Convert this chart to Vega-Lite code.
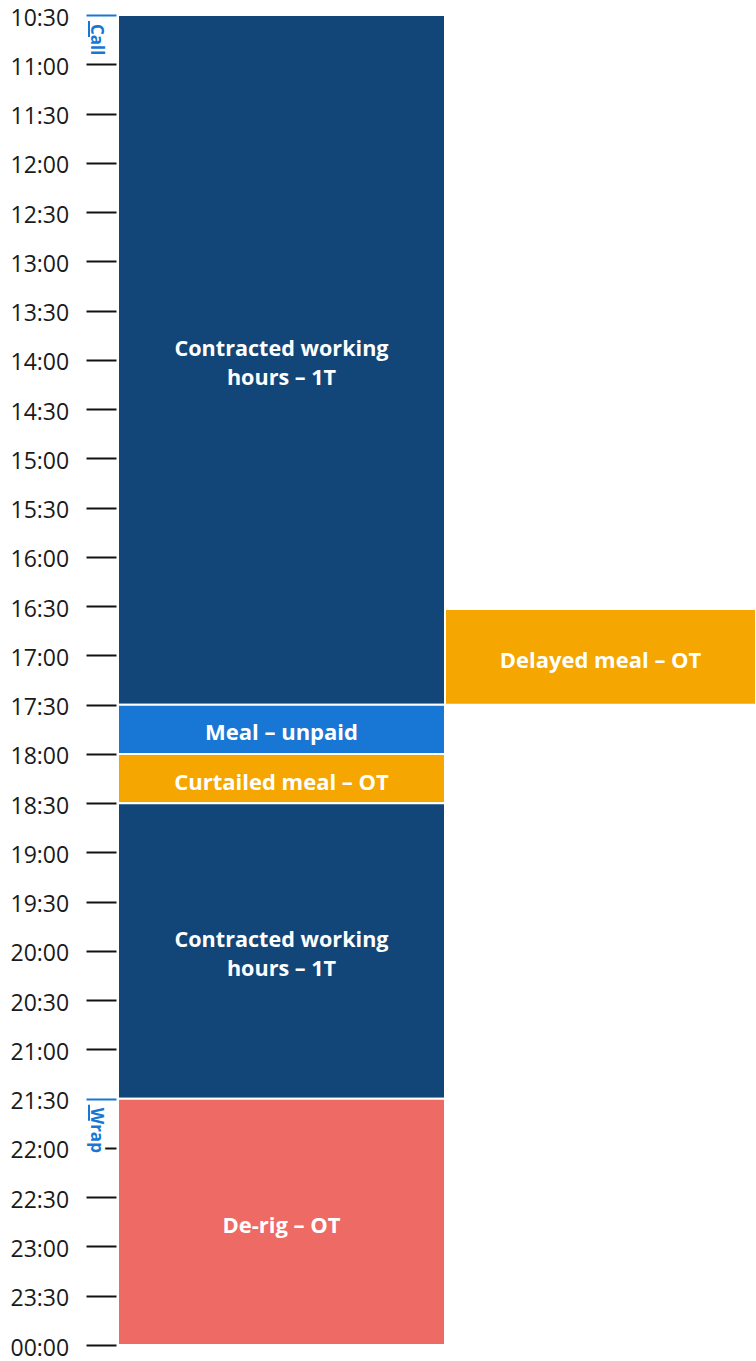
{
  "$schema": "https://vega.github.io/schema/vega-lite/v6.json",
  "width": 638,
  "height": 1330,
  "autosize": {"type": "none"},
  "padding": {"left": 118, "top": 15, "right": 0, "bottom": 16},
  "background": "white",
  "config": {"view": {"stroke": null}},
  "data": {
    "values": [
      {"label": "Contracted working\nhours – 1T", "start": 10.5, "end": 17.5, "col": 0, "colEnd": 1, "type": "Contracted"},
      {"label": "Meal – unpaid", "start": 17.5, "end": 18, "col": 0, "colEnd": 1, "type": "Unpaid"},
      {"label": "Curtailed meal – OT", "start": 18, "end": 18.5, "col": 0, "colEnd": 1, "type": "Meal OT"},
      {"label": "Contracted working\nhours – 1T", "start": 18.5, "end": 21.5, "col": 0, "colEnd": 1, "type": "Contracted"},
      {"label": "De-rig – OT", "start": 21.5, "end": 24, "col": 0, "colEnd": 1, "type": "De-rig"},
      {"label": "Delayed meal – OT", "start": 16.53, "end": 17.5, "col": 1, "colEnd": 2, "type": "Meal OT"}
    ]
  },
  "layer": [
    {
      "mark": {"type": "rect", "stroke": "white", "strokeWidth": 2},
      "encoding": {
        "x": {"field": "col", "type": "quantitative", "scale": {"domain": [0, 1, 2], "range": [0, 327, 638]}, "axis": null},
        "x2": {"field": "colEnd"},
        "y": {
          "field": "start", "type": "quantitative",
          "scale": {"domain": [10.5, 24], "reverse": true, "zero": false, "nice": false},
          "axis": {
            "title": null,
            "values": [10.5, 11, 11.5, 12, 12.5, 13, 13.5, 14, 14.5, 15, 15.5, 16, 16.5, 17, 17.5, 18, 18.5, 19, 19.5, 20, 20.5, 21, 21.5, 22, 22.5, 23, 23.5, 24],
            "labelExpr": "pad(toString(floor(datum.value) % 24), 2, '0', 'left') + ':' + (datum.value % 1 > 0 ? '30' : '00')",
            "domain": false,
            "grid": false,
            "offset": 2,
            "tickSize": 30,
            "tickWidth": 2,
            "tickColor": {"condition": {"test": "datum.value == 10.5 || datum.value == 21.5", "value": "#1877D4"}, "value": "#111111"},
            "labelAlign": "left",
            "labelPadding": 76,
            "labelFont": "Open Sans",
            "labelFontSize": 23,
            "labelColor": "#1a1a1a",
            "labelBaseline": "middle",
            "labelOffset": 3,
            "labelFlush": false,
            "labelOverlap": false,
            "labelBound": false
          }
        },
        "y2": {"field": "end"},
        "color": {
          "field": "type", "type": "nominal", "legend": null,
          "scale": {"domain": ["Contracted", "Unpaid", "Meal OT", "De-rig"], "range": ["#124678", "#1877D4", "#F5A600", "#EE6A65"]}
        }
      }
    },
    {
      "transform": [
        {"filter": "indexof(datum.label, '\\n') < 0"},
        {"calculate": "(datum.start + datum.end) / 2", "as": "mid"},
        {"calculate": "(datum.col + datum.colEnd) / 2", "as": "cmid"}
      ],
      "mark": {"type": "text", "color": "white", "font": "Open Sans", "fontWeight": "bold", "fontSize": 22, "align": "center", "baseline": "middle", "dy": 4},
      "encoding": {
        "x": {"field": "cmid", "type": "quantitative"},
        "y": {"field": "mid", "type": "quantitative"},
        "text": {"field": "label"}
      }
    },
    {
      "transform": [
        {"filter": "indexof(datum.label, '\\n') >= 0"},
        {"calculate": "(datum.start + datum.end) / 2", "as": "mid"},
        {"calculate": "(datum.col + datum.colEnd) / 2", "as": "cmid"}
      ],
      "mark": {"type": "text", "color": "white", "font": "Open Sans", "fontWeight": "bold", "fontSize": 21.6, "lineBreak": "\n", "lineHeight": 29, "align": "center", "baseline": "middle", "dy": -10},
      "encoding": {
        "x": {"field": "cmid", "type": "quantitative"},
        "y": {"field": "mid", "type": "quantitative"},
        "text": {"field": "label"}
      }
    },
    {
      "data": {"values": [{"name": "Call", "t": 10.5}, {"name": "Wrap", "t": 21.5}]},
      "layer": [
        {
          "mark": {"type": "text", "angle": 90, "align": "left", "baseline": "middle", "font": "Open Sans", "fontWeight": "bold", "fill": "white", "stroke": "white", "strokeWidth": 8, "xOffset": -22, "yOffset": 9},
          "encoding": {"x": {"datum": 0, "type": "quantitative"}, "y": {"field": "t", "type": "quantitative"}, "text": {"field": "name"}, "size": {"value": 17}}
        },
        {
          "mark": {"type": "rule", "color": "#1877D4", "strokeWidth": 2, "xOffset": -29, "yOffset": 6, "y2Offset": 22},
          "encoding": {"x": {"datum": 0, "type": "quantitative"}, "y": {"field": "t", "type": "quantitative"}, "y2": {"field": "t"}}
        },
        {
          "mark": {"type": "text", "angle": 90, "align": "left", "baseline": "middle", "font": "Open Sans", "fontWeight": "bold", "color": "#1877D4", "xOffset": -22, "yOffset": 9},
          "encoding": {"x": {"datum": 0, "type": "quantitative"}, "y": {"field": "t", "type": "quantitative"}, "text": {"field": "name"}, "size": {"value": 17}}
        }
      ]
    }
  ]
}
